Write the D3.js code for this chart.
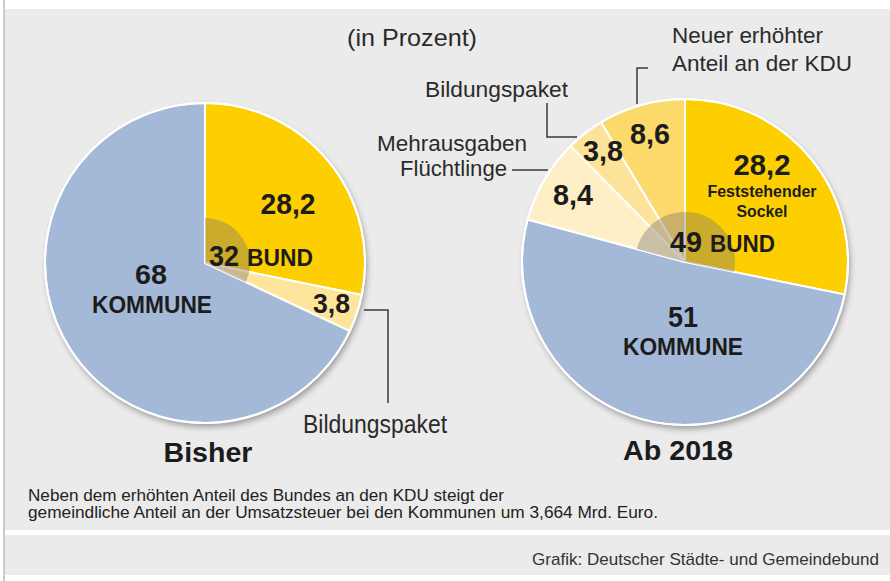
<!DOCTYPE html>
<html>
<head>
<meta charset="utf-8">
<script src="https://cdn.jsdelivr.net/npm/d3@7"></script>
<style>
  html, body { margin: 0; padding: 0; background: #ffffff; }
  svg { display: block; font-family: "Liberation Sans", Arial, Helvetica, sans-serif; }
</style>
</head>
<body>
<svg id="chart" width="890" height="581"></svg>
<script>
// ---- data ----
const pieTitles = ["Bisher", "Ab 2018"];
const bisherCategories = ["Feststehender Sockel", "Bildungspaket", "Kommune"];
const bisherValues = [28.2, 3.8, 68];
const ab2018Categories = ["Feststehender Sockel", "Kommune", "Mehrausgaben Flüchtlinge", "Bildungspaket", "Neuer erhöhter Anteil an der KDU"];
const ab2018Values = [28.2, 51, 8.4, 3.8, 8.6];
const bundTotals = [32, 49];
const kommuneTotals = [68, 51];
const valueLabels = ["28,2", "3,8", "68", "28,2", "51", "8,4", "3,8", "8,6"];

const svg = d3.select("#chart");
const FONT = '"Liberation Sans", Arial, Helvetica, sans-serif';

// ---- background panels ----
svg.append("rect").attr("x", 0).attr("y", 0).attr("width", 890).attr("height", 581).attr("fill", "#ffffff");
svg.append("rect").attr("x", 5).attr("y", 9).attr("width", 885).attr("height", 521).attr("fill", "#ebebeb");
svg.append("rect").attr("x", 5).attr("y", 535).attr("width", 885).attr("height", 40).attr("fill", "#ebebeb");
svg.append("line").attr("x1", 4).attr("x2", 4).attr("y1", 0).attr("y2", 581)
  .attr("stroke", "#a8a8a8").attr("stroke-width", 1.2);

// shadow filter
const defs = svg.append("defs");
const f = defs.append("filter").attr("id", "shadow").attr("x", "-20%").attr("y", "-20%").attr("width", "140%").attr("height", "140%");
f.append("feDropShadow").attr("dx", 2).attr("dy", 4).attr("stdDeviation", 3)
  .attr("flood-color", "#000").attr("flood-opacity", 0.35);

const pieGen = d3.pie().sort(null).value(d => d);

function drawPie(cx, cy, r, innerR, values, colors, kommuneIndex) {
  const g = svg.append("g").attr("transform", `translate(${cx},${cy})`);
  g.append("circle").attr("r", r).attr("fill", "#ffffff").attr("filter", "url(#shadow)");
  const arcs = pieGen(values);
  const arc = d3.arc().innerRadius(0).outerRadius(r);
  g.selectAll("path.slice").data(arcs).join("path")
    .attr("class", "slice")
    .attr("d", arc)
    .attr("fill", (d, i) => colors[i])
    .attr("stroke", "#ffffff")
    .attr("stroke-width", 2)
    .attr("stroke-linejoin", "round");
  // darker inner wedge over the Bund part
  const k = arcs[kommuneIndex];
  const bundArc = d3.arc().innerRadius(0).outerRadius(innerR)
    .startAngle(k.endAngle).endAngle(k.startAngle + 2 * Math.PI);
  g.append("path").attr("d", bundArc()).attr("fill", "rgba(125,118,110,0.4)");
  g.append("circle").attr("r", r).attr("fill", "none").attr("stroke", "#ffffff").attr("stroke-width", 2);
  return g;
}

drawPie(205, 263, 160, 45, bisherValues, ["#fdcf00", "#fde59b", "#a4b9d7"], 2);
drawPie(685, 262, 163, 50, ab2018Values, ["#fdcf00", "#a4b9d7", "#feefc6", "#fde39a", "#fcd96b"], 1);

// ---- text helper ----
function txt(x, y, s, o) {
  const t = svg.append("text")
    .attr("x", x).attr("y", y)
    .attr("font-family", FONT)
    .attr("font-size", o.size)
    .attr("font-weight", o.weight || "normal")
    .attr("text-anchor", o.anchor || "start")
    .attr("fill", o.fill || "#1c1c1c")
    .text(s);
  if (o.len) t.attr("textLength", o.len).attr("lengthAdjust", "spacingAndGlyphs");
  return t;
}
function leader(points) {
  svg.append("path").attr("d", d3.line()(points)).attr("fill", "none")
    .attr("stroke", "#3a3a3a").attr("stroke-width", 1.5);
}

// top label
txt(347, 46, "(in Prozent)", {size: 24, len: 130, fill: "#2a2a2a"});

// Left pie labels
txt(288, 214, valueLabels[0], {size: 30, weight: "bold", anchor: "middle", len: 55});
txt(209, 266, String(bundTotals[0]), {size: 30, weight: "bold", len: 30});
txt(247, 266, "BUND", {size: 23, weight: "bold", len: 66});
txt(151, 284, String(kommuneTotals[0]), {size: 28, weight: "bold", anchor: "middle", len: 32});
txt(152, 313, "KOMMUNE", {size: 24, weight: "bold", anchor: "middle", len: 120});
txt(313, 313, valueLabels[1], {size: 27, weight: "bold", len: 37});
leader([[364, 310], [388, 310], [388, 403]]);
txt(303, 433, "Bildungspaket", {size: 25, len: 144, fill: "#2a2a2a"});
txt(208, 462, pieTitles[0], {size: 27, weight: "bold", anchor: "middle", len: 89});

// Right pie labels
txt(762, 175, valueLabels[3], {size: 30, weight: "bold", anchor: "middle", len: 57});
txt(762, 197, "Feststehender", {size: 17, weight: "bold", anchor: "middle", len: 109});
txt(762, 217, "Sockel", {size: 17, weight: "bold", anchor: "middle", len: 51});
txt(670, 252, String(bundTotals[1]), {size: 30, weight: "bold", len: 32});
txt(710, 252, "BUND", {size: 23, weight: "bold", len: 65});
txt(683, 327, String(kommuneTotals[1]), {size: 29, weight: "bold", anchor: "middle", len: 30});
txt(683, 355, "KOMMUNE", {size: 24, weight: "bold", anchor: "middle", len: 120});
txt(553, 205, valueLabels[5], {size: 29, weight: "bold", len: 40});
txt(583, 161, valueLabels[6], {size: 29, weight: "bold", len: 40});
txt(630, 144, valueLabels[7], {size: 29, weight: "bold", len: 40});
txt(678, 460, pieTitles[1], {size: 27, weight: "bold", anchor: "middle", len: 110});

// Right pie callouts
txt(672, 43, "Neuer erhöhter", {size: 22, len: 151, fill: "#2a2a2a"});
txt(672, 71, "Anteil an der KDU", {size: 22, len: 180, fill: "#2a2a2a"});
leader([[648, 68], [637, 68], [637, 104]]);
txt(425, 97, "Bildungspaket", {size: 22, len: 143, fill: "#2a2a2a"});
leader([[547, 103], [547, 137], [577, 137]]);
txt(377, 151, "Mehrausgaben", {size: 22, len: 150, fill: "#2a2a2a"});
txt(400, 176, "Flüchtlinge", {size: 22, len: 107, fill: "#2a2a2a"});
leader([[512, 170], [548, 170]]);

// footnote
txt(28, 501, "Neben dem erhöhten Anteil des Bundes an den KDU steigt der", {size: 16, len: 476, fill: "#222"});
txt(28, 518, "gemeindliche Anteil an der Umsatzsteuer bei den Kommunen um 3,664 Mrd. Euro.", {size: 16, len: 630, fill: "#222"});

// credit
txt(879, 565, "Grafik: Deutscher Städte- und Gemeindebund", {size: 17, anchor: "end", len: 347, fill: "#333"});
</script>
</body>
</html>
